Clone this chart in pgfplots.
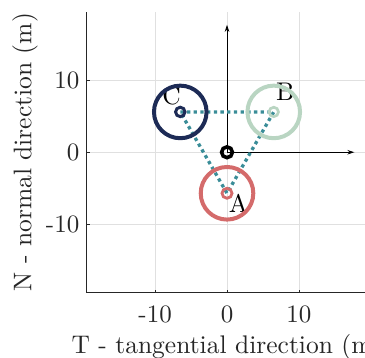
\documentclass[border=0pt]{standalone}
\usepackage{fontspec}
\setmainfont{lmroman10-regular.otf}
\usepackage{pgfplots}
\pgfplotsset{compat=1.18}
\usetikzlibrary{arrows.meta}
\definecolor{cnavy}{HTML}{1D2B56}
\definecolor{cgreen}{HTML}{B9D5C2}
\definecolor{cred}{HTML}{D46B6B}
\definecolor{cteal}{HTML}{3A8D98}
\definecolor{caxis}{HTML}{262626}
\begin{document}
\begin{tikzpicture}
\begin{axis}[
  scale only axis,
  width=280.5pt, height=280.8pt,
  xmin=-19.5, xmax=19.5, ymin=-19.5, ymax=19.5,
  axis x line*=bottom, axis y line*=left,
  axis line style={-, caxis, line width=0.8pt},
  xtick={-10,0,10}, ytick={-10,0,10},
  xticklabels={-10,0,10}, yticklabels={-10,0,10},
  tick align=inside, major tick length=3pt,
  tick style={caxis, line width=0.6pt},
  grid=major, grid style={black!12, line width=0.6pt},
  ticklabel style={font=\fontsize{25}{30}\selectfont, text=black!85, inner sep=0pt},
  xticklabel style={yshift=-13.4pt},
  yticklabel style={xshift=-7.3pt},
  xlabel={T - tangential direction (m)},
  ylabel={N - normal direction (m)},
  label style={font=\fontsize{25.5}{30}\selectfont, text=black!85, inner sep=0pt},
  xlabel style={at={(ticklabel cs:0.5,11pt)}, anchor=north},
  ylabel style={at={(ticklabel cs:0.5,8pt)}, anchor=south},
  clip=false,
]
% axes arrows
\addplot[black, line width=0.7pt, -{Stealth[length=7pt,width=4.5pt]}] coordinates {(0,0) (0,17.7)};
\addplot[black, line width=0.7pt, -{Stealth[length=7pt,width=4.5pt]}] coordinates {(0,0) (17.7,0)};
% big circles
\addplot[only marks, mark=o, mark size=26.3pt, mark options={cnavy, line width=4pt}] coordinates {(-6.5,5.6)};
\addplot[only marks, mark=o, mark size=26.3pt, mark options={cgreen, line width=4pt}] coordinates {(6.5,5.6)};
\addplot[only marks, mark=o, mark size=26.3pt, mark options={cred, line width=4pt}] coordinates {(0,-5.7)};
% dotted triangle
\addplot[cteal, line width=3.3pt, line cap=butt, dash pattern=on 3.3pt off 3.4pt, no markers] coordinates {(-6.5,5.6) (6.5,5.6) (0,-5.7) (-6.5,5.6)};
% small circles
\addplot[only marks, mark=o, mark size=4.7pt, mark options={cnavy, line width=3pt}] coordinates {(-6.5,5.6)};
\addplot[only marks, mark=o, mark size=4.7pt, mark options={cgreen, line width=2.7pt}] coordinates {(6.5,5.6)};
\addplot[only marks, mark=o, mark size=5pt, mark options={cred, line width=2.8pt}] coordinates {(0,-5.7)};
\addplot[only marks, mark=o, mark size=5.4pt, mark options={black, line width=3.6pt}] coordinates {(0,0)};
% labels
\node[font=\fontsize{25.5}{30}\selectfont] at (axis cs:-7.7,7.9) {C};
\node[font=\fontsize{25.5}{30}\selectfont] at (axis cs:8.1,8.4) {B};
\node[font=\fontsize{25.5}{30}\selectfont] at (axis cs:1.6,-7.1) {A};
\coordinate (BBll) at (axis cs:-31.57,-28.57);
\coordinate (BBur) at (axis cs:19.19,21.15);
\end{axis}
\pgfresetboundingbox
\useasboundingbox (BBll) rectangle (BBur);
\end{tikzpicture}
\end{document}
